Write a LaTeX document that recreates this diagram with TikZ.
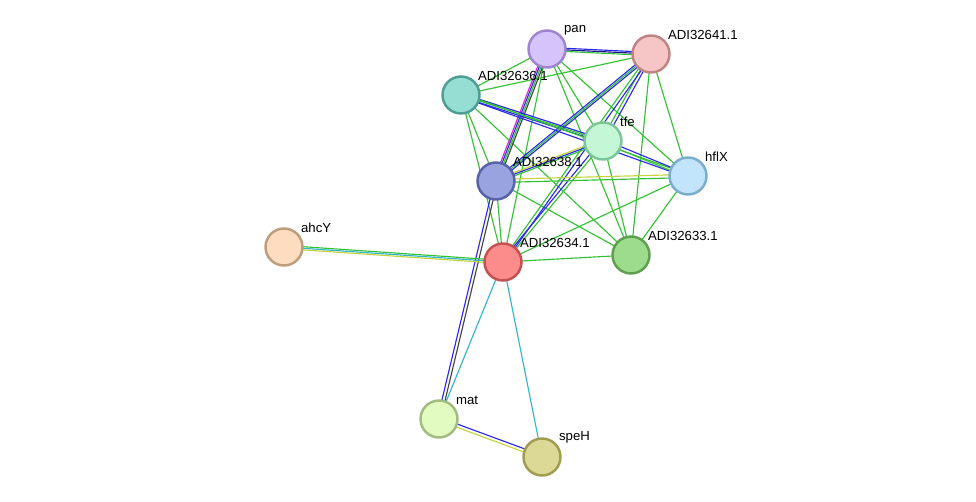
\documentclass[tikz,border=0pt]{standalone}
\usepackage{fontspec}
\setmainfont{Liberation Sans}
\usetikzlibrary{calc}

\definecolor{eGreen}{HTML}{33C233}
\definecolor{eBlue}{HTML}{2A2AE8}
\definecolor{eCyan}{HTML}{2FB5CF}
\definecolor{eYellow}{HTML}{C4D43A}
\definecolor{eMagenta}{HTML}{D02FC8}
\definecolor{eDark}{HTML}{444444}

\tikzset{
  prot/.style={circle,draw=nd,fill=nf,line width=1.4pt,minimum size=0.74cm,inner sep=0pt},
  lbl/.style={font=\fontsize{7.5}{9}\selectfont,anchor=south west,inner sep=1pt},
  edge/.style={line width=0.65pt}
}

% multi-coloured edge: colour/offset pairs
\newcommand{\medge}[3]{%
  \foreach \c/\o in {#3}
    \draw[edge,\c] ($(#1)!\o*0.9pt!90:(#2)$) -- ($(#2)!\o*0.9pt!-90:(#1)$);}

\begin{document}
\begin{tikzpicture}[x=0.02cm,y=-0.02cm]
  \useasboundingbox (0,0) rectangle (976,502);

  \coordinate (pan) at (547,49);
  \coordinate (a41) at (651,54);
  \coordinate (a36) at (461,95);
  \coordinate (tfe) at (603,141);
  \coordinate (hfl) at (688,176);
  \coordinate (a38) at (496,181);
  \coordinate (ahc) at (284,247);
  \coordinate (a34) at (503,262);
  \coordinate (a33) at (631,255);
  \coordinate (mat) at (439,419);
  \coordinate (spe) at (542,457);

  % edges
  \foreach \a/\b in {pan/a36,pan/a34,pan/tfe,pan/hfl,pan/a33,a41/a36,a41/hfl,a41/a33,
                     a36/a38,a36/a34,a36/a33,tfe/a33,a38/a34,a38/a33,hfl/a33,hfl/a34,a34/a33}
    \draw[edge,eGreen] (\a) -- (\b);
  \medge{pan}{a41}{eGreen/-1,eBlue/1,eBlue!60!black/0}
  \medge{pan}{a38}{eMagenta/-1.5,eBlue/-0.5,eGreen/0.5,eDark/1.5}
  \medge{a41}{tfe}{eGreen/-1,eBlue/1}
  \medge{a41}{a38}{eBlue/-1,eGreen/0,eBlue/1}
  \medge{a41}{a34}{eGreen/-1,eBlue/1}
  \medge{a36}{tfe}{eBlue/-1,eGreen/0,eBlue/1}
  \medge{a36}{hfl}{eBlue/-1,eGreen/1}
  \medge{tfe}{a38}{eYellow/-1,eBlue/0,eGreen/1}
  \medge{tfe}{hfl}{eGreen/-1,eBlue/1}
  \medge{tfe}{a34}{eBlue/-1,eGreen/1}
  \medge{a38}{hfl}{eGreen/-1,eYellow/1}
  \medge{a38}{mat}{eBlue/-1,eDark/1}
  \medge{a34}{ahc}{eGreen/-1,eCyan/0,eYellow/1}
  \draw[edge,eCyan] (a34) -- (mat);
  \draw[edge,eCyan] (a34) -- (spe);
  \medge{mat}{spe}{eYellow/-1,eBlue/1}

  % proteins
  \foreach \n/\f/\d/\t in {pan/D5C4FC/9F85D0/pan, a41/F6C6C6/C08484/ADI32641.1,
      a36/96DDD4/4E9E94/ADI32636.1, tfe/C3F7D6/7DC69A/tfe, hfl/C2E5FB/7AADCB/hflX,
      a38/99A3E0/5762A8/ADI32638.1, ahc/FDDCBF/BC9D7C/ahcY, a34/FC8C8C/C45050/ADI32634.1,
      a33/9CDC8C/5FA050/ADI32633.1, mat/E1FBC0/A1BC7E/mat, spe/DCD895/A09C50/speH} {
    \definecolor{nf}{HTML}{\f}\definecolor{nd}{HTML}{\d}
    \node[prot] (n\n) at (\n) {};
    \node[lbl] (l\n) at ($(\n)+(15,-12)$) {\t};
  }
\end{tikzpicture}
\end{document}
